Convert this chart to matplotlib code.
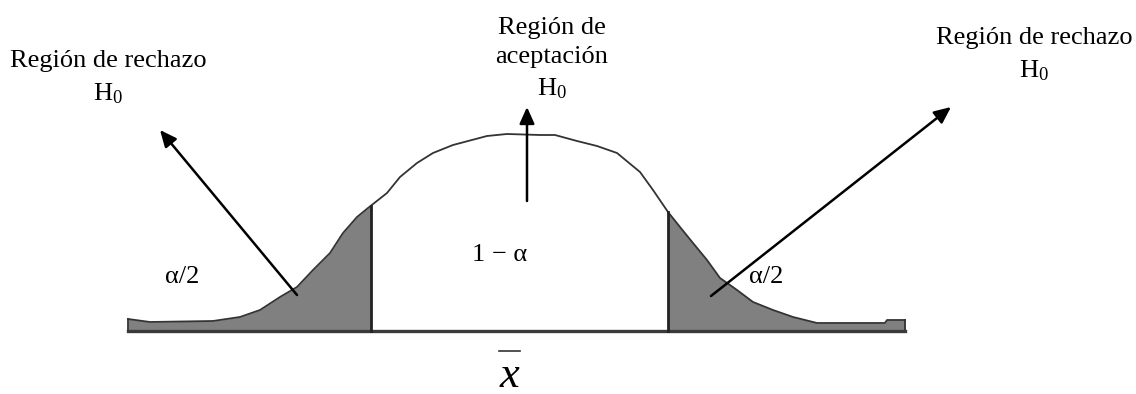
import numpy as np
import matplotlib.pyplot as plt

plt.rcParams["font.family"] = ["Liberation Serif", "DejaVu Serif"]
plt.rcParams["mathtext.fontset"] = "custom"
plt.rcParams["mathtext.rm"] = "Liberation Serif"
plt.rcParams["mathtext.it"] = "Liberation Serif:italic"

# curve (pixel-like units, y grows downward)
curve_x = [128, 150, 213, 240, 260, 280, 297, 313, 330, 343, 357, 368, 387, 400, 417,
           433, 453, 487, 507, 540, 555, 577, 597, 617, 640, 653, 668, 680, 693, 707,
           720, 737, 753, 773, 793, 817, 885, 887, 905]
curve_y = [319, 322, 321, 317, 310, 297, 287, 270, 253, 233, 217, 208, 193, 177, 163,
           153, 145, 136, 134, 135, 135, 141, 146, 153, 172, 190, 212, 227, 243, 260,
           278, 290, 302, 310, 317, 323, 323, 320, 320]
base_y = 331
crit_left = 371
crit_right = 668

labels = ["Región de rechazo\n$\\mathrm{H}_0$",
          "Región de\naceptación\n$\\mathrm{H}_0$",
          "Región de rechazo\n$\\mathrm{H}_0$"]
label_pos = [(108, 78), (552, 59), (1034, 55)]
# arrows: (start, tip)
arrows = [((297, 295), (160, 130)), ((527, 201), (527, 107)), ((711, 296), (951, 107))]

fig = plt.figure(figsize=(11.36, 3.94), dpi=100)
ax = fig.add_axes([0, 0, 1, 1])
ax.set_xlim(0, 1136)
ax.set_ylim(394, 0)
ax.axis("off")

xs = np.array(curve_x, dtype=float)
ys = np.array(curve_y, dtype=float)
xf = np.linspace(xs[0], xs[-1], 2000)
yf = np.interp(xf, xs, ys)

# shaded tails
ax.fill_between(xf, yf, base_y, where=xf <= crit_left, color="#808080", lw=0)
ax.fill_between(xf, yf, base_y, where=xf >= crit_right, color="#808080", lw=0)

# curve and baseline
ax.plot(xs, ys, color="#333333", lw=1.3)
ax.plot([xs[0], xs[0]], [ys[0], base_y], color="#333333", lw=1.3)
ax.plot([xs[-1], xs[-1]], [ys[-1], base_y], color="#333333", lw=1.3)
ax.plot([xs[0], xs[-1]], [base_y, base_y], color="#3a3a3a", lw=2.4)

# critical values
for c in [crit_left, crit_right]:
    ax.plot([c, c], [np.interp(c, xs, ys), base_y], color="#222222", lw=2.0)

# arrows
for start, tip in arrows:
    ax.annotate("", xy=tip, xytext=start,
                arrowprops=dict(arrowstyle="-|>,head_length=1.0,head_width=0.45",
                                color="black", lw=1.8, shrinkA=0, shrinkB=0))

# labels
for txt, (x, y) in zip(labels, label_pos):
    ax.text(x, y, txt, ha="center", va="center", fontsize=19, linespacing=1.45)

ax.text(182, 277, "α/2", ha="center", va="center", fontsize=19)
ax.text(766, 277, "α/2", ha="center", va="center", fontsize=19)
ax.text(500, 255, "1 − α", ha="center", va="center", fontsize=19)

# x-bar below the axis
ax.text(509, 387, "x", ha="center", va="baseline", fontsize=32, style="italic")
ax.plot([499, 520], [351, 351], color="#333333", lw=1.2)

fig.savefig("out.png", dpi=100)
